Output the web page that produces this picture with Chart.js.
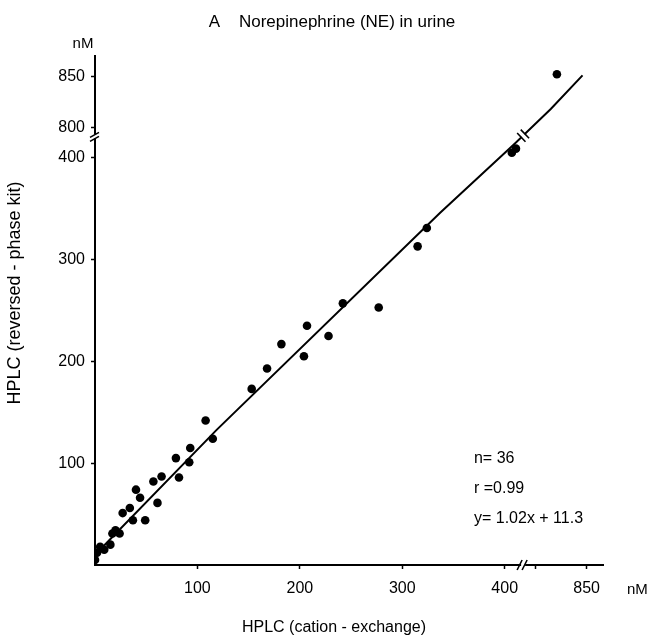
<!DOCTYPE html>
<html><head><meta charset="utf-8">
<script src="https://cdn.jsdelivr.net/npm/chart.js@4/dist/chart.umd.min.js"></script>
<style>html,body{margin:0;padding:0;background:#fff}#wrap{width:651px;height:637px}</style>
</head><body><div id="wrap"><canvas id="c" width="651" height="637"></canvas></div>
<script>
const neCationX   = [0, 2, 5, 15, 17, 20, 24, 27, 34, 37, 40, 44, 49, 57, 61, 65, 79, 82, 92, 93, 108, 115, 153, 168, 182, 204, 207, 228, 242, 277, 315, 324, 407, 411, 821, 9];
const neReversedY = [5, 12, 18, 20, 31, 34, 31, 51, 56, 44, 74, 66, 44, 82, 61, 87, 105, 86, 101, 115, 142, 124, 173, 193, 217, 205, 235, 225, 257, 253, 313, 331, 405, 409, 852, 15];
const fitLineX = [2, 119, 337, 410, 815, 846];
const fitLineY = [12, 133, 346, 414, 818, 851];
const xTickValues = [100, 200, 300, 400, 800, 850];
const xTickLabels = ['100', '200', '300', '400', '', '850'];
const yTickValues = [100, 200, 300, 400, 800, 850];
const yTickLabels = ['100', '200', '300', '400', '800', '850'];
const statsLines = ['n= 36', 'r =0.99', 'y= 1.02x + 11.3'];
const titleText = 'A    Norepinephrine (NE) in urine';
const xTitle = 'HPLC (cation - exchange)';
const yTitle = 'HPLC (reversed - phase kit)';
const unitLabel = 'nM';

// broken axes: the range 420..790 nM is cut out of both axes
const BREAK_GAP = 370;
const BREAK_AT = 418;
function T(v) { return v >= 600 ? v - BREAK_GAP : v; }

const FONT = '"Liberation Sans", Arial, Helvetica, sans-serif';

const extras = {
  id: 'extras',
  afterDraw(chart) {
    const ctx = chart.ctx, xs = chart.scales.x, ys = chart.scales.y;
    ctx.save();
    ctx.fillStyle = '#000';
    ctx.strokeStyle = '#000';
    // title
    ctx.font = '17px ' + FONT;
    ctx.textAlign = 'center';
    ctx.textBaseline = 'middle';
    ctx.fillText(titleText, 332, 22);
    // stats
    ctx.font = '16px ' + FONT;
    ctx.textAlign = 'left';
    const sx = xs.getPixelForValue(370);
    statsLines.forEach((t, i) => {
      ctx.fillText(t, sx, ys.getPixelForValue(105 - i * 29.5));
    });
    // unit labels
    ctx.font = '15px ' + FONT;
    ctx.textAlign = 'center';
    ctx.fillText(unitLabel, xs.left - 12, ys.top - 12);
    ctx.textAlign = 'left';
    ctx.fillText(unitLabel, xs.right + 24, xs.top + 25);
    // axis titles
    ctx.font = '16px ' + FONT;
    ctx.textAlign = 'center';
    ctx.fillText(xTitle, 334, xs.bottom - 9);
    ctx.save();
    ctx.font = '18px ' + FONT;
    ctx.translate(15, 293);
    ctx.rotate(-Math.PI / 2);
    ctx.fillText(yTitle, 0, 0);
    ctx.restore();

    // break marks
    ctx.lineWidth = 1.6;
    // x axis
    const bx = xs.getPixelForValue(BREAK_AT), by = xs.top;
    ctx.fillStyle = '#fff';
    ctx.fillRect(bx - 2, by - 3, 4, 6);
    ctx.beginPath();
    ctx.moveTo(bx - 6, by + 5); ctx.lineTo(bx - 1, by - 5);
    ctx.moveTo(bx - 1, by + 5); ctx.lineTo(bx + 4, by - 5);
    ctx.stroke();
    // y axis
    const ax = ys.right, ay = ys.getPixelForValue(BREAK_AT + 3);
    ctx.fillRect(ax - 3, ay - 2, 6, 4);
    ctx.beginPath();
    ctx.moveTo(ax - 5, ay + 1); ctx.lineTo(ax + 4, ay - 4);
    ctx.moveTo(ax - 5, ay + 5); ctx.lineTo(ax + 4, ay + 0);
    ctx.stroke();
    // fit line
    const p1x = xs.getPixelForValue(T(fitLineX[3])), p1y = ys.getPixelForValue(T(fitLineY[3]));
    const p2x = xs.getPixelForValue(T(fitLineX[4])), p2y = ys.getPixelForValue(T(fitLineY[4]));
    const f = (xs.getPixelForValue(BREAK_AT) - p1x) / (p2x - p1x);
    const lx = p1x + f * (p2x - p1x), ly = p1y + f * (p2y - p1y);
    let dx = p2x - p1x, dy = p2y - p1y; const L = Math.hypot(dx, dy); dx /= L; dy /= L;
    const nx = -dy, ny = dx;
    ctx.strokeStyle = '#fff'; ctx.lineWidth = 4;
    ctx.beginPath(); ctx.moveTo(lx - dx * 2, ly - dy * 2); ctx.lineTo(lx + dx * 2, ly + dy * 2); ctx.stroke();
    ctx.strokeStyle = '#000'; ctx.lineWidth = 1.6;
    ctx.beginPath();
    [-2.5, 2.5].forEach(o => {
      const cx = lx + dx * o, cy = ly + dy * o;
      ctx.moveTo(cx - nx * 6, cy - ny * 6); ctx.lineTo(cx + nx * 6, cy + ny * 6);
    });
    ctx.stroke();
    ctx.restore();
  }
};

const tickFont = { family: FONT, size: 16 };

new Chart(document.getElementById('c'), {
  type: 'scatter',
  data: {
    datasets: [
      {
        label: 'NE',
        data: neCationX.map((x, i) => ({ x: T(x), y: T(neReversedY[i]) })),
        pointRadius: 4.3,
        pointBackgroundColor: '#000',
        pointBorderWidth: 0,
        showLine: false
      },
      {
        label: 'fit',
        data: fitLineX.map((x, i) => ({ x: T(x), y: T(fitLineY[i]) })),
        showLine: true,
        borderColor: '#000',
        borderWidth: 2,
        pointRadius: 0,
        tension: 0
      }
    ]
  },
  options: {
    responsive: false,
    animation: false,
    devicePixelRatio: 1,
    layout: { padding: { top: 56, left: 0, right: 48, bottom: 0 } },
    plugins: {
      legend: { display: false },
      tooltip: { enabled: false },
      title: { display: false }
    },
    scales: {
      x: {
        type: 'linear', min: 0, max: 496,
        afterBuildTicks: s => { s.ticks = xTickValues.map(v => ({ value: T(v) })); },
        afterFit: s => { s.height = 72; },
        ticks: { callback: (v, i) => xTickLabels[i], color: '#000', font: tickFont, padding: 10, maxRotation: 0, autoSkip: false },
        grid: { display: true, drawOnChartArea: false, drawTicks: true, tickLength: 4, tickWidth: 1.5, tickColor: '#000' },
        border: { display: true, color: '#000', width: 2 }
      },
      y: {
        type: 'linear', min: 0, max: 500,
        afterBuildTicks: s => { s.ticks = yTickValues.map(v => ({ value: T(v) })); },
        afterFit: s => { s.width = 95; },
        ticks: { callback: (v, i) => yTickLabels[i], color: '#000', font: tickFont, padding: 6, autoSkip: false },
        grid: { display: true, drawOnChartArea: false, drawTicks: true, tickLength: 4, tickWidth: 1.5, tickColor: '#000' },
        border: { display: true, color: '#000', width: 2 }
      }
    }
  },
  plugins: [extras]
});
</script>
</body></html>
